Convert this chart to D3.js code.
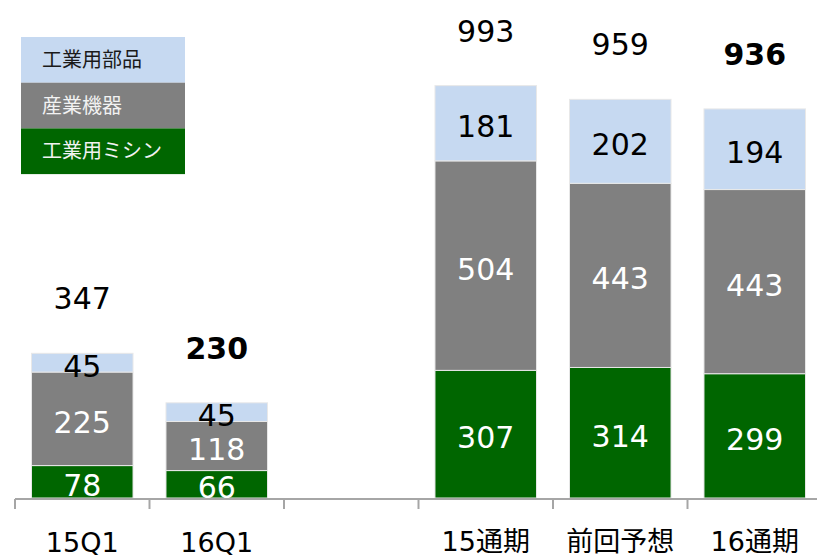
<!DOCTYPE html>
<html>
<head>
<meta charset="utf-8">
<script src="https://cdn.jsdelivr.net/npm/d3@7"></script>
<style>
  html, body { margin: 0; padding: 0; background: #fff; }
  svg { display: block; font-family: "DejaVu Sans", "Noto Sans CJK JP", sans-serif; }
</style>
</head>
<body>
<div id="chart"></div>
<script>
// -> chart data
var categories = ["15Q1", "16Q1", "", "15通期", "前回予想", "16通期"];
var sewing   = [78, 66, null, 307, 314, 299];     // 工業用ミシン
var machines = [225, 118, null, 504, 443, 443];   // 産業機器
var parts    = [45, 45, null, 181, 202, 194];     // 工業用部品
var totals   = [347, 230, null, 993, 959, 936];
var boldTotal = [false, true, false, false, false, true];
var seriesNames = ["工業用ミシン", "産業機器", "工業用部品"];

(function(){
    "use strict";

    var width = 817, height = 560,
        baseY = 498;

    var colors = ["#006600", "#808080", "#c6d9f1"],
        labelColors = ["#ffffff", "#ffffff", "#000000"];

    var svg = d3.select("#chart").append("svg")
        .attr("width", width)
        .attr("height", height);

    var x = d3.scaleBand().domain(categories).range([15, 822]).padding(0);
    var y = d3.scaleLinear().domain([0, 1000]).range([baseY, baseY - 415.7]);
    var barW = x.bandwidth() * 0.755;

    // -> build stacked rows
    var rows = categories.map(function(c, i) {
        return { cat: c, s0: sewing[i], s1: machines[i], s2: parts[i], total: totals[i], bold: boldTotal[i] };
    }).filter(function(d) { return d.s0 !== null; });

    var stack = d3.stack().keys(["s0", "s1", "s2"]);
    var layers = stack(rows);

    var g = svg.selectAll("g.layer")
        .data(layers)
        .enter().append("g")
        .attr("class", "layer")
        .attr("fill", function(d, i) { return colors[i]; });

    g.selectAll("rect")
        .data(function(d) { return d; })
        .enter().append("rect")
        .attr("x", function(d) { return x(d.data.cat) + (x.bandwidth() - barW) / 2; })
        .attr("y", function(d) { return y(d[1]); })
        .attr("width", barW)
        .attr("height", function(d) { return y(d[0]) - y(d[1]); })
        .attr("stroke", "#e8e8e8")
        .attr("stroke-width", 1);

    // -> segment labels
    layers.forEach(function(layer, li) {
        svg.selectAll(null)
            .data(layer)
            .enter().append("text")
            .attr("x", function(d) { return x(d.data.cat) + x.bandwidth() / 2; })
            .attr("y", function(d) { return (y(d[0]) + y(d[1])) / 2 + 14; })
            .attr("text-anchor", "middle")
            .attr("font-size", 30)
            .attr("fill", labelColors[li])
            .text(function(d) { return d.data[layer.key]; });
    });

    // -> totals
    svg.selectAll("text.total")
        .data(rows)
        .enter().append("text")
        .attr("class", "total")
        .attr("x", function(d) { return x(d.cat) + x.bandwidth() / 2; })
        .attr("y", function(d) { return y(d.s0 + d.s1 + d.s2) - 44; })
        .attr("text-anchor", "middle")
        .attr("font-size", 30)
        .attr("font-weight", function(d) { return d.bold ? "bold" : "normal"; })
        .attr("fill", "#000")
        .text(function(d) { return d.total; });

    // -> x axis line and tick marks at band edges
    svg.append("line")
        .attr("x1", 15).attr("x2", width)
        .attr("y1", baseY + 1).attr("y2", baseY + 1)
        .attr("stroke", "#a6a6a6")
        .attr("stroke-width", 2);

    var edges = categories.map(function(c) { return x(c); });
    svg.selectAll("line.tick")
        .data(edges)
        .enter().append("line")
        .attr("class", "tick")
        .attr("x1", function(d) { return d; }).attr("x2", function(d) { return d; })
        .attr("y1", baseY + 1).attr("y2", baseY + 11)
        .attr("stroke", "#a6a6a6")
        .attr("stroke-width", 2);

    // -> category labels
    svg.selectAll("text.cat")
        .data(categories.filter(function(c) { return c !== ""; }))
        .enter().append("text")
        .attr("class", "cat")
        .attr("x", function(d) { return x(d) + x.bandwidth() / 2; })
        .attr("y", function(d) { return /^[0-9A-Z]+$/.test(d) ? 552 : 551; })
        .attr("text-anchor", "middle")
        .attr("font-size", 27)
        .attr("fill", "#000")
        .text(function(d) { return d; });

    // -> legend (top = parts)
    var legend = svg.append("g").attr("transform", "translate(21,37)");
    var legendRows = [2, 1, 0];
    legendRows.forEach(function(si, i) {
        legend.append("rect")
            .attr("x", 0).attr("y", i * 45.7)
            .attr("width", 164).attr("height", 45.7)
            .attr("fill", colors[si]);
        legend.append("text")
            .attr("x", 21).attr("y", i * 45.7 + 30)
            .attr("font-size", 20)
            .attr("font-family", "'Noto Sans CJK JP', sans-serif")
            .attr("fill", si === 2 ? "#1a1a1a" : "#f2f2f2")
            .text(seriesNames[si]);
    });
})();
</script>
</body>
</html>
